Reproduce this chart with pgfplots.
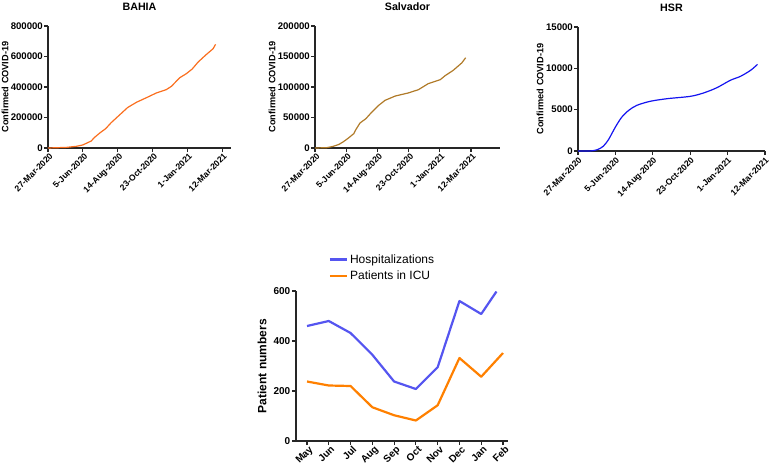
\documentclass[border=0pt]{standalone}
\usepackage{fontspec}
\setmainfont{Liberation Sans}
\usepackage{pgfplots}
\pgfplotsset{compat=1.18}

\definecolor{axc}{RGB}{38,38,38}
\definecolor{bahia}{RGB}{250,110,30}
\definecolor{ssa}{RGB}{176,122,40}
\definecolor{hsr}{RGB}{20,20,240}
\definecolor{hosp}{RGB}{85,85,240}
\definecolor{icu}{RGB}{255,128,0}

\pgfplotsset{
  prism/.style={
    scale only axis,
    axis lines=left,
    axis line style={-, line width=1.1pt, draw=axc},
    tick style={line width=1.1pt, draw=axc},
    tick align=outside,
    major tick length=4pt,
    /pgf/number format/assume math mode=true,
  },
  covid/.style={
    prism,
    xmin=0, ymin=0,
    xtick={0,70,140,210,280,350},
    xticklabels={27-Mar-2020,5-Jun-2020,14-Aug-2020,23-Oct-2020,1-Jan-2021,12-Mar-2021},
    x tick label style={rotate=45, anchor=north east, inner sep=1pt, xshift=1.5pt, font=\bfseries\fontsize{8.6}{9}\selectfont},
    scaled y ticks=false,
    y tick label style={inner sep=1pt, font=\bfseries\fontsize{9.6}{10}\selectfont, /pgf/number format/.cd, fixed, 1000 sep={}},
    ylabel={Confirmed COVID-19},
    title style={font=\bfseries\fontsize{10.7}{12}\selectfont, yshift=6pt},
  },
}

\begin{document}
\begin{tikzpicture}
\path[use as bounding box] (0,0) rectangle (770pt,475pt);

% BAHIA
\begin{axis}[covid, at={(48pt,327pt)}, anchor=south west,
  width=183pt, height=122pt, xmax=368, ymax=800000,
  ytick={0,200000,400000,600000,800000}, title={BAHIA},
  ylabel style={font=\bfseries\fontsize{9.2}{10}\selectfont, at={(axis description cs:0,0.5)}, anchor=center, yshift=43pt}]
\addplot[bahia, line width=1.2pt] coordinates {
(0,0) (37,4000) (57,11000) (70,20000) (87,46000) (93,68000) (104,98000)
(116,127000) (127,166000) (141,208000) (160,265000) (178,300000)
(198,330000) (218,361000) (238,383000) (248,404000) (265,461000)
(278,487000) (290,518000) (302,564000) (318,612000) (332,651000) (337,680000)};
\end{axis}

% Salvador
\begin{axis}[covid, at={(315pt,327pt)}, anchor=south west,
  width=185pt, height=122pt, xmax=415, ymax=200000,
  ytick={0,50000,100000,150000,200000}, title={Salvador},
  ylabel style={font=\bfseries\fontsize{9.2}{10}\selectfont, at={(axis description cs:0,0.5)}, anchor=center, yshift=43pt}]
\addplot[ssa, line width=1.2pt] coordinates {
(0,0) (26,500) (41,2700) (54,6000) (64,10400) (75,16400) (87,23500)
(92,30600) (101,41000) (114,48000) (127,58500) (142,69400) (157,78100)
(180,85200) (209,90200) (232,95600) (254,105500) (281,112000)
(292,118600) (310,127300) (329,139300) (338,148000)};
\end{axis}

% HSR
\begin{axis}[covid, at={(578pt,324pt)}, anchor=south west,
  width=187pt, height=124pt, xmax=350, ymax=15000,
  ytick={0,5000,10000,15000}, title={HSR},
  x tick label style={xshift=-1.5pt},
  ylabel style={font=\bfseries\fontsize{9.2}{10}\selectfont, at={(axis description cs:0,0.5)}, anchor=center, yshift=38pt}]
\addplot[hsr, line width=1.2pt, smooth] coordinates {
(0,0) (23,0) (36,160) (47,560) (57,1370) (70,2900) (82,4100) (95,4920)
(110,5520) (135,6010) (167,6330) (210,6610) (235,7020) (260,7660)
(285,8550) (304,9030) (323,9760) (336,10480)};
\end{axis}

% Patients
\begin{axis}[prism, at={(296pt,34pt)}, anchor=south west,
  width=212pt, height=150pt,
  xmin=-0.505, xmax=9.23, ymin=0, ymax=600,
  xtick={0,...,9},
  xticklabels={May,Jun,Jul,Aug,Sep,Oct,Nov,Dec,Jan,Feb},
  x tick label style={rotate=45, anchor=north east, inner sep=1pt, xshift=2pt, font=\bfseries\fontsize{10}{11}\selectfont},
  ytick={0,200,400,600},
  y tick label style={inner sep=1.5pt, font=\bfseries\fontsize{10}{11}\selectfont},
  ylabel={Patient numbers},
  ylabel style={font=\bfseries\fontsize{12}{13}\selectfont, at={(axis description cs:0,0.5)}, anchor=center, yshift=34pt},
  legend style={at={(0.14,1.04)}, anchor=south west, draw=none, fill=none,
    font=\fontsize{12}{14}\selectfont, row sep=2pt},
  legend cell align=left,
  legend image code/.code={\draw[#1] (0pt,0pt) -- (17pt,0pt);},
]
\addplot[hosp, line width=2.2pt, line join=round] coordinates {
(0,460) (1,480) (2,432) (3,345) (4,238) (5,208) (6,295) (7,560) (8,508) (8.7,598)};
\addplot[icu, line width=2.2pt, line join=round] coordinates {
(0,238) (1,222) (2,220) (3,135) (4,103) (5,82) (6,143) (7,332) (8,257) (9,352)};
\legend{Hospitalizations, Patients in ICU}
\end{axis}
\end{tikzpicture}
\end{document}
